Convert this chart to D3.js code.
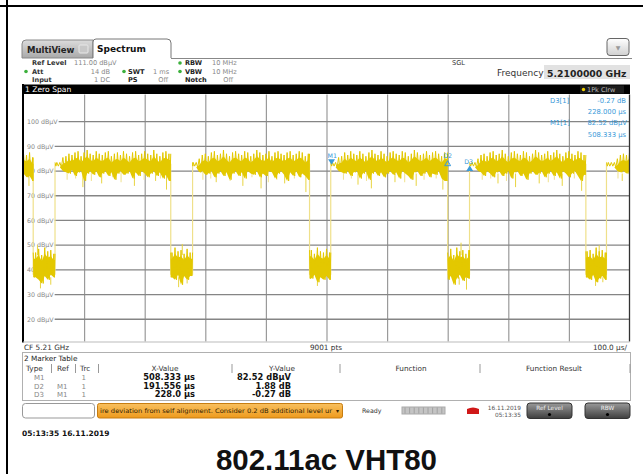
<!DOCTYPE html>
<html>
<head>
<meta charset="utf-8">
<script src="https://cdn.jsdelivr.net/npm/d3@7"></script>
<style>
  body { margin: 0; background: #fff; }
  svg text { font-family: "DejaVu Sans", Verdana, sans-serif; }
</style>
</head>
<body>
<div id="chart"></div>
<script>
// ---- values ----
var timeDivs = [0, 100, 200, 300, 400, 500, 600, 700, 800, 900, 1000];   // µs
var gridLevels = [100, 90, 80, 70, 60, 50, 40, 30, 20];                   // dBµV

// burst edges in µs: fall, rise, fall, rise ...
var edgeTimes = [16, 52, 243, 279, 472, 507, 700, 736, 928, 962];

// peak max / min of the trace, one pair per 5 µs bin (0 .. 1000 µs)
var binStep = 5;
var peakMax = [
  87, 86.5, 87.5, 85.5, 47, 48.5, 46, 49, 47.5, 48,            // 0
  46.5, 83.5, 83.5, 85.5, 86, 87, 86.5, 87.5, 88, 86,          // 50
  87.5, 88.5, 87, 86.5, 88, 87, 86.5, 87.5, 88, 86,            // 100
  87, 87.5, 86.5, 88, 87, 86, 87.5, 88, 86.5, 87,              // 150
  88, 87, 86.5, 88.5, 87, 86, 87.5, 88, 87, 47,                // 200
  49, 47.5, 48, 46.5, 48.5, 47, 83.5, 83.5, 85, 86.5,          // 250
  87, 86, 87.5, 88, 86.5, 87, 88.5, 87, 86, 87.5,              // 300
  88, 87, 86.5, 88, 87.5, 86, 87, 88.5, 87.5, 86.5,            // 350
  87, 88, 86, 87.5, 88, 87, 86.5, 87.5, 88, 86.5,              // 400
  87, 88, 87.5, 86, 87, 48, 46.5, 49, 47.5, 47,                // 450
  48.5, 47, 83.5, 83.5, 85.5, 86, 87.5, 86.5, 88, 87,          // 500
  86.5, 88, 87, 86, 87.5, 88.5, 87, 86.5, 88, 87,              // 550
  86, 87.5, 88, 87, 86.5, 88, 87.5, 86, 87, 88.5,              // 600
  87.5, 86.5, 87, 88, 86.5, 87.5, 88, 87, 86, 87.5,            // 650
  47, 48.5, 46, 49, 47.5, 48, 46.5, 48, 83.5, 83.5,            // 700
  85, 86.5, 87, 86, 87.5, 88, 86.5, 87, 88.5, 87,              // 750
  86, 87.5, 88, 87, 86.5, 88, 87.5, 86, 87, 88.5,              // 800
  87.5, 86.5, 87, 88, 86.5, 87.5, 88.5, 87, 86, 87.5,          // 850
  88, 87, 86.5, 88, 87.5, 86.5, 47.5, 48, 46.5, 49,            // 900
  47.5, 48, 47, 83.5, 83.5, 83.5, 85, 86.5, 87, 86.5,          // 950
  87.5                                                          // 1000
];
var peakMin = [
  79, 77.5, 78, 76, 37, 36, 34.5, 37.5, 36, 38,
  37, 82, 81.5, 80, 79.5, 79, 80.5, 78, 79.5, 80,
  76, 79, 80, 78.5, 80, 77.5, 79, 80, 78, 79.5,
  76.5, 79, 80, 78.5, 79, 80, 77, 79.5, 78, 80,
  79, 77.5, 79, 80, 78, 79.5, 77, 78.5, 76, 37,
  36, 38, 34, 37.5, 36, 37.5, 82, 81.5, 79.5, 80,
  78.5, 79, 80, 77.5, 79, 80, 78, 79.5, 76.5, 79,
  80, 78, 79.5, 77, 80, 79, 78.5, 80, 77.5, 79,
  78, 80, 79.5, 77, 79, 80, 78.5, 76, 79.5, 78,
  80, 77.5, 79, 78, 76.5, 36.5, 38, 35, 37, 36,
  37.5, 36, 82, 81.5, 80, 79.5, 79, 80, 78, 79.5,
  80, 77, 79, 80, 76.5, 79, 80, 78, 79.5, 77.5,
  79, 80, 78.5, 79.5, 77, 80, 79, 78, 76.5, 79.5,
  80, 78, 79, 80, 77.5, 79, 78.5, 80, 77, 76,
  36, 37.5, 34, 36.5, 38, 35.5, 37, 36.5, 82, 81.5,
  80, 79.5, 78, 80, 79, 77.5, 79.5, 80, 78, 79,
  80, 77, 79.5, 80, 78, 79, 76.5, 79, 80, 78.5,
  79, 80, 77.5, 79, 80, 78, 79.5, 77, 80, 79,
  77.5, 79, 80, 78, 76, 78.5, 37, 36, 38, 35,
  36.5, 37.5, 36, 82, 82, 81.5, 80, 79.5, 80, 79,
  80
];

// single deep spikes: [µs, dBµV]
var dips = [
  [9, 74], [98, 73.5], [129, 75], [183, 74], [218, 76], [236, 72.5],
  [318, 75.5], [362, 74], [392, 73], [431, 75], [466, 71.5],
  [552, 74.5], [574, 73], [613, 75.5], [648, 74], [692, 72.5],
  [783, 75], [812, 73.5], [851, 75], [889, 74], [921, 72], [988, 76],
  [28, 32.5], [45, 34], [256, 33], [270, 34.5], [485, 33.5],
  [719, 34], [731, 32], [944, 33.5], [956, 35],
  [23, 50], [262, 50.5], [722, 51], [950, 50]
];
// fainter streaks below the burst level: [µs, dBµV]
var faintDips = [
  [72, 76.5], [86, 77], [112, 76], [147, 77.5], [161, 75.5], [199, 76.5], [226, 77],
  [296, 76.5], [309, 77], [341, 76], [377, 77.5], [404, 75.5], [418, 76.5], [447, 77],
  [528, 76.5], [541, 77], [566, 76], [597, 77.5], [629, 75.5], [661, 76.5], [681, 77],
  [757, 76.5], [771, 77], [797, 76], [829, 77.5], [866, 75.5], [876, 76.5], [909, 77],
  [981, 77]
];

var markerNames = ["M1", "D2", "D3"];
var markerTimes = [508.333, 699.889, 736.333];
var markerLevels = [82.52, 84.40, 82.25];

var tableType = ["M1", "D2", "D3"];
var tableRef = ["", "M1", "M1"];
var tableTrc = ["1", "1", "1"];
var tableX = ["508.333 µs", "191.556 µs", "228.0 µs"];
var tableY = ["82.52 dBµV", "1.88 dB", "-0.27 dB"];

// ---- page ----
var width = 643, height = 474;
var svg = d3.select("#chart").append("svg")
    .attr("width", width)
    .attr("height", height);

var defs = svg.append("defs");
function grad(id, c1, c2) {
  var g = defs.append("linearGradient").attr("id", id)
      .attr("x1", 0).attr("y1", 0).attr("x2", 0).attr("y2", 1);
  g.append("stop").attr("offset", "0%").attr("stop-color", c1);
  g.append("stop").attr("offset", "100%").attr("stop-color", c2);
}
grad("tabGrey", "#dcdcdc", "#a9a9a9");
grad("btnLight", "#ffffff", "#d0d0d0");
grad("btnDark", "#9a9a9a", "#3e3e3e");
grad("orange", "#f8c060", "#ee9a1c");

var blue = "#3a9ad9", yellow = "#e3c800";

// outer frame
svg.append("rect").attr("x", 0).attr("y", 5).attr("width", width).attr("height", 2).attr("fill", "#000");
svg.append("rect").attr("x", 6).attr("y", 0).attr("width", 2).attr("height", height).attr("fill", "#000");

// tabs
svg.append("path")
    .attr("d", "M22,58 L22,44 Q22,40 26,40 L93,40 L93,58 Z")
    .attr("fill", "url(#tabGrey)").attr("stroke", "#8a8a8a");
svg.append("text").attr("x", 27).attr("y", 52.5).attr("font-size", 8.5)
    .attr("font-weight", "bold").attr("fill", "#222").text("MultiView");
svg.append("rect").attr("x", 79).attr("y", 45).attr("width", 9).attr("height", 8)
    .attr("rx", 1).attr("fill", "#c8c8c8").attr("stroke", "#e8e8e8");
svg.append("path")
    .attr("d", "M93,58 L93,42 Q93,39 96,39 L167,39 Q171,39 171,43 L171,58")
    .attr("fill", "#fff").attr("stroke", "#777");
svg.append("text").attr("x", 97).attr("y", 52).attr("font-size", 9)
    .attr("font-weight", "bold").attr("fill", "#111").text("Spectrum");
svg.append("line").attr("x1", 171).attr("x2", 632).attr("y1", 58.5).attr("y2", 58.5)
    .attr("stroke", "#888");
svg.append("rect").attr("x", 607).attr("y", 38.5).attr("width", 22).attr("height", 17)
    .attr("rx", 3).attr("fill", "url(#btnLight)").attr("stroke", "#666");
svg.append("text").attr("x", 618).attr("y", 50).attr("text-anchor", "middle")
    .attr("font-size", 6).attr("fill", "#999").text("▼");

// settings block
var hdr = svg.append("g").attr("font-size", 6.6);
function ht(xp, yp, s, opt) {
  opt = opt || {};
  hdr.append("text").attr("x", xp).attr("y", yp).text(s)
      .attr("fill", opt.fill || "#222")
      .attr("font-weight", opt.bold ? "bold" : null)
      .attr("text-anchor", opt.end ? "end" : null);
}
var r1 = 65, r2 = 73.5, r3 = 82;
ht(32, r1, "Ref Level", {bold: true, fill: "#333"});
ht(74, r1, "111.00 dBµV", {fill: "#888"});
ht(32, r2, "Att", {bold: true, fill: "#333"});
ht(110, r2, "14 dB", {fill: "#888", end: true});
ht(32, r3, "Input", {bold: true, fill: "#333"});
ht(110, r3, "1 DC", {fill: "#888", end: true});
ht(128, r2, "SWT", {bold: true});
ht(153, r2, "1 ms", {fill: "#888"});
ht(128, r3, "PS", {bold: true});
ht(168, r3, "Off", {fill: "#888", end: true});
ht(185, r1, "RBW", {bold: true});
ht(212, r1, "10 MHz", {fill: "#888"});
ht(185, r2, "VBW", {bold: true});
ht(212, r2, "10 MHz", {fill: "#888"});
ht(185, r3, "Notch", {bold: true});
ht(233, r3, "Off", {fill: "#888", end: true});
[[26, 71.5], [124, 71.5], [180, 63], [180, 71.5]].forEach(function (p) {
  svg.append("circle").attr("cx", p[0]).attr("cy", p[1]).attr("r", 1.8).attr("fill", "#3cb03c");
});
ht(452, 65, "SGL", {fill: "#333"});
svg.append("text").attr("x", 497).attr("y", 76).attr("font-size", 9)
    .attr("fill", "#333").text("Frequency");
svg.append("rect").attr("x", 544).attr("y", 65).attr("width", 86).attr("height", 14)
    .attr("fill", "#e2e2e2");
svg.append("text").attr("x", 547).attr("y", 76.5).attr("font-size", 9.3)
    .attr("font-weight", "bold").attr("fill", "#222").text("5.2100000 GHz");

// window title bar
svg.append("rect").attr("x", 23).attr("y", 84.5).attr("width", 607).attr("height", 9.5).attr("fill", "#000");
svg.append("text").attr("x", 25).attr("y", 92.3).attr("font-size", 7.6)
    .attr("fill", "#fff").text("1 Zero Span");
svg.append("rect").attr("x", 580).attr("y", 85.5).attr("width", 44).attr("height", 8).attr("fill", "#1c1c1c");
svg.append("circle").attr("cx", 583.5).attr("cy", 89.5).attr("r", 1.7).attr("fill", "#f0d000");
svg.append("text").attr("x", 587).attr("y", 92).attr("font-size", 6.5)
    .attr("fill", "#bbb").text("1Pk Clrw");

// ---- diagram ----
var x = d3.scaleLinear().domain([0, 1000]).range([23.5, 629.5]);
var y = d3.scaleLinear().domain([11, 111]).range([341.5, 94.5]);

var plot = svg.append("g");
plot.append("rect").attr("x", x(0)).attr("y", y(111)).attr("width", x(1000) - x(0))
    .attr("height", y(11) - y(111)).attr("fill", "#fff");

// vertical grid from an axis
var vgrid = plot.append("g")
    .attr("transform", "translate(0," + y(11) + ")")
    .call(d3.axisBottom(x).tickValues(timeDivs.slice(1, -1))
      .tickSize(-(y(11) - y(111))).tickFormat(""));
vgrid.select(".domain").remove();
vgrid.selectAll("line").attr("stroke", "#9a9a9a").attr("stroke-width", 1.2);

// horizontal grid with level labels
gridLevels.forEach(function (v) {
  var lab = plot.append("text").attr("x", 27).attr("y", y(v) + 2.3)
      .attr("font-size", 6.3).attr("fill", "#888").text(v + " dBµV");
  var w = lab.node().getComputedTextLength();
  plot.append("line").attr("x1", 27 + w + 1).attr("x2", x(1000))
      .attr("y1", y(v)).attr("y2", y(v))
      .attr("stroke", "#858585").attr("stroke-width", 1.3);
});

// marker info (upper right)
var info = plot.append("g").attr("font-size", 6.8).attr("fill", blue);
info.append("text").attr("x", 550).attr("y", 103).text("D3[1]");
info.append("text").attr("x", 626).attr("y", 103).attr("text-anchor", "end").text("-0.27 dB");
info.append("text").attr("x", 626).attr("y", 114).attr("text-anchor", "end").text("228.000 µs");
info.append("text").attr("x", 550).attr("y", 125).text("M1[1]");
info.append("text").attr("x", 627).attr("y", 125).attr("text-anchor", "end").text("82.52 dBµV");
info.append("text").attr("x", 626).attr("y", 136.5).attr("text-anchor", "end").text("508.333 µs");

// trace
var bounds = [0].concat(edgeTimes, [1000]);
var coreArea = d3.area()
    .x(function (d) { return x(d.t); })
    .y0(function (d) { return y(d.lo); })
    .y1(function (d) { return y(Math.max(d.lo, d.hi - 2.5)); });
var zigLine = d3.line()
    .x(function (d) { return x(d.t); })
    .y(function (d) { return y(d.v); });

var trace = plot.append("g");

// transitions between bursts
edgeTimes.forEach(function (t) {
  trace.append("line").attr("x1", x(t)).attr("x2", x(t))
      .attr("y1", y(38)).attr("y2", y(83))
      .attr("stroke", "#efe08a").attr("stroke-width", 1.2);
});

// spikes
faintDips.forEach(function (d) {
  trace.append("line").attr("x1", x(d[0])).attr("x2", x(d[0]))
      .attr("y1", y(80)).attr("y2", y(d[1]))
      .attr("stroke", "#f1e496").attr("stroke-width", 1.1);
});
dips.forEach(function (d) {
  var base = d[1] > 60 ? 79 : (d[1] > 45 ? 46 : 37);
  trace.append("line").attr("x1", x(d[0])).attr("x2", x(d[0]))
      .attr("y1", y(base)).attr("y2", y(d[1]))
      .attr("stroke", "#e8d440").attr("stroke-width", 1);
});

for (var i = 0; i < bounds.length - 1; i++) {
  var a = bounds[i], b = bounds[i + 1];
  var pts = [];
  peakMax.forEach(function (v, k) {
    var t = k * binStep;
    if ((t >= a && t < b) || (t === 1000 && b === 1000)) pts.push({t: t, hi: v, lo: peakMin[k]});
  });
  if (!pts.length) continue;
  if (pts[0].t > a) pts.unshift({t: a, hi: pts[0].hi, lo: pts[0].lo});
  var last = pts[pts.length - 1];
  if (last.t < b) pts.push({t: b, hi: last.hi, lo: last.lo});

  // max/min zig-zag as the analyzer draws its peak trace
  var zz = [];
  pts.forEach(function (p, j) {
    zz.push({t: p.t, v: p.hi});
    if (j < pts.length - 1) {
      zz.push({t: (p.t + pts[j + 1].t) / 2, v: p.lo});
    }
  });
  trace.append("path").datum(pts).attr("d", coreArea)
      .attr("fill", yellow);
  trace.append("path").datum(zz).attr("d", zigLine)
      .attr("fill", "none").attr("stroke", yellow).attr("stroke-width", 1);
}

// markers on the trace
markerNames.forEach(function (n, k) {
  var mx = x(markerTimes[k]), my = y(markerLevels[k]);
  var tri;
  if (n === "M1") {
    tri = "M" + (mx - 3.5) + "," + (my - 5.5) + " L" + (mx + 3.5) + "," + (my - 5.5) + " L" + mx + "," + my + " Z";
    plot.append("path").attr("d", tri).attr("fill", blue);
    plot.append("text").attr("x", mx - 4).attr("y", my - 7).attr("font-size", 6.3).attr("fill", blue).text(n);
  } else if (n === "D2") {
    tri = "M" + mx + "," + (my + 0.5) + " L" + (mx + 3) + "," + (my + 5.5) + " L" + (mx - 3) + "," + (my + 5.5) + " Z";
    plot.append("path").attr("d", tri).attr("fill", "none").attr("stroke", blue).attr("stroke-width", 1);
    plot.append("text").attr("x", mx - 4.5).attr("y", my - 2).attr("font-size", 6.3).attr("fill", blue).text(n);
  } else {
    tri = "M" + mx + "," + my + " L" + (mx + 3.5) + "," + (my + 5.5) + " L" + (mx - 3.5) + "," + (my + 5.5) + " Z";
    plot.append("path").attr("d", tri).attr("fill", blue);
    plot.append("text").attr("x", mx - 5.5).attr("y", my - 2).attr("font-size", 6.3).attr("fill", blue).text(n);
  }
});

// frame of the diagram
plot.append("line").attr("x1", 23).attr("x2", 23).attr("y1", 84).attr("y2", 342.5)
    .attr("stroke", "#000").attr("stroke-width", 2);
plot.append("line").attr("x1", x(1000)).attr("x2", x(1000)).attr("y1", y(111)).attr("y2", y(11))
    .attr("stroke", "#333").attr("stroke-width", 1.3);
plot.append("line").attr("x1", 23).attr("x2", x(1000)).attr("y1", y(11) + 0.5).attr("y2", y(11) + 0.5)
    .attr("stroke", "#bbb").attr("stroke-width", 1);

// footer of the diagram
var foot = svg.append("g").attr("font-size", 7.3).attr("fill", "#333");
foot.append("text").attr("x", 24).attr("y", 350).text("CF 5.21 GHz");
foot.append("text").attr("x", 326).attr("y", 350).attr("text-anchor", "middle").text("9001 pts");
foot.append("text").attr("x", 627).attr("y", 350).attr("text-anchor", "end").text("100.0 µs/");

// ---- marker table ----
svg.append("rect").attr("x", 22.5).attr("y", 352.5).attr("width", 608).attr("height", 48)
    .attr("fill", "#fff").attr("stroke", "#b0b0b0");
svg.append("text").attr("x", 24).attr("y", 360.5).attr("font-size", 7.3)
    .attr("fill", "#222").text("2 Marker Table");

var cols = {type: 26, ref: 57, trc: 80, xv: 165, yv: 282, fn: 411, fr: 554};
var seps = [51.5, 75.5, 98.5, 232, 340, 480, 630];
var th = svg.append("g").attr("font-size", 7.3).attr("fill", "#333");
th.append("text").attr("x", cols.type).attr("y", 371).text("Type");
th.append("text").attr("x", cols.ref).attr("y", 371).text("Ref");
th.append("text").attr("x", cols.trc).attr("y", 371).text("Trc");
th.append("text").attr("x", cols.xv).attr("y", 371).attr("text-anchor", "middle").text("X-Value");
th.append("text").attr("x", cols.yv).attr("y", 371).attr("text-anchor", "middle").text("Y-Value");
th.append("text").attr("x", cols.fn).attr("y", 371).attr("text-anchor", "middle").text("Function");
th.append("text").attr("x", cols.fr).attr("y", 371).attr("text-anchor", "middle").text("Function Result");
seps.forEach(function (s) {
  svg.append("line").attr("x1", s).attr("x2", s).attr("y1", 364).attr("y2", 373)
      .attr("stroke", "#999");
});

var rowY = [380, 388.5, 397];
tableType.forEach(function (t, k) {
  var ry = rowY[k];
  svg.append("text").attr("x", 34).attr("y", ry).attr("font-size", 7).attr("fill", "#888").text(t);
  svg.append("text").attr("x", 57).attr("y", ry).attr("font-size", 7).attr("fill", "#888").text(tableRef[k]);
  svg.append("text").attr("x", 86).attr("y", ry).attr("font-size", 7).attr("fill", "#888")
      .attr("text-anchor", "end").text(tableTrc[k]);
  svg.append("text").attr("x", 195).attr("y", ry).attr("font-size", 8.3).attr("font-weight", "bold")
      .attr("fill", "#111").attr("text-anchor", "end").text(tableX[k]);
  svg.append("text").attr("x", 291).attr("y", ry).attr("font-size", 8.3).attr("font-weight", "bold")
      .attr("fill", "#111").attr("text-anchor", "end").text(tableY[k]);
});

// ---- status bar ----
svg.append("rect").attr("x", 22.5).attr("y", 403.5).attr("width", 72).attr("height", 14.5)
    .attr("rx", 3).attr("fill", "#fff").attr("stroke", "#999");
svg.append("rect").attr("x", 97.5).attr("y", 403.5).attr("width", 245).attr("height", 14.5)
    .attr("rx", 2).attr("fill", "url(#orange)").attr("stroke", "#c77d10");
svg.append("text").attr("x", 100).attr("y", 413).attr("font-size", 6.2).attr("fill", "#332200")
    .attr("textLength", 232).attr("lengthAdjust", "spacingAndGlyphs")
    .text("ire deviation from self alignment. Consider 0.2 dB additional level ur");
svg.append("text").attr("x", 336).attr("y", 413).attr("font-size", 6).attr("fill", "#332200").text("▾");
svg.append("text").attr("x", 362).attr("y", 413).attr("font-size", 6.3).attr("fill", "#333").text("Ready");
svg.append("rect").attr("x", 402).attr("y", 407).attr("width", 43).attr("height", 7)
    .attr("fill", "#c4c4c4").attr("stroke", "#aaa");
d3.range(0, 9).forEach(function (k) {
  svg.append("line").attr("x1", 405 + k * 4.6).attr("x2", 405 + k * 4.6)
      .attr("y1", 407.5).attr("y2", 413.5).attr("stroke", "#999").attr("stroke-width", 0.8);
});
svg.append("path").attr("d", "M467,414 L467,409 Q473,406 479,409 L479,414 Z").attr("fill", "#d01818");
svg.append("text").attr("x", 521).attr("y", 409.5).attr("font-size", 5.8).attr("fill", "#555")
    .attr("text-anchor", "end").text("16.11.2019");
svg.append("text").attr("x", 521).attr("y", 416.5).attr("font-size", 5.8).attr("fill", "#555")
    .attr("text-anchor", "end").text("05:13:35");
[[527, "Ref Level"], [585, "RBW"]].forEach(function (b) {
  svg.append("rect").attr("x", b[0]).attr("y", 403).attr("width", 45).attr("height", 15.5)
      .attr("rx", 3).attr("fill", "url(#btnDark)").attr("stroke", "#333");
  svg.append("text").attr("x", b[0] + 22.5).attr("y", 410).attr("font-size", 5.8)
      .attr("text-anchor", "middle").attr("fill", "#eee").text(b[1]);
  svg.append("circle").attr("cx", b[0] + 22.5).attr("cy", 414.5).attr("r", 1.6).attr("fill", "#000");
});

// ---- caption ----
svg.append("text").attr("x", 22).attr("y", 436).attr("font-size", 7.5).attr("font-weight", "bold")
    .attr("fill", "#111").text("05:13:35  16.11.2019");
svg.append("text").attr("x", 326.5).attr("y", 469.5).attr("text-anchor", "middle")
    .style("font-family", "'Liberation Sans', Arial, sans-serif")
    .attr("font-size", 30).attr("font-weight", "bold").attr("fill", "#111")
    .attr("textLength", 221).attr("lengthAdjust", "spacingAndGlyphs")
    .text("802.11ac VHT80");
</script>
</body>
</html>
